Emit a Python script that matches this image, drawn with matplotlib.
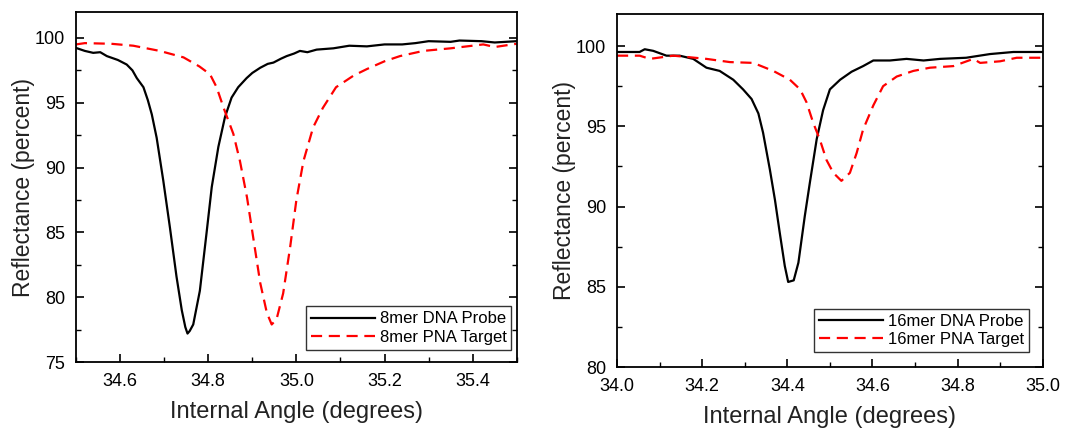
import matplotlib.pyplot as plt
import numpy as np

plt.rcParams['font.family'] = ['Liberation Sans', 'DejaVu Sans']

# left panel: 8mer
x8_probe = [34.50, 34.52, 34.539, 34.555, 34.57, 34.595, 34.615, 34.628, 34.638, 34.653,
            34.663, 34.672, 34.683, 34.698, 34.713, 34.728, 34.74, 34.748, 34.753, 34.758,
            34.766, 34.781, 34.796, 34.808, 34.823, 34.838, 34.853, 34.868, 34.887, 34.9,
            34.918, 34.935, 34.948, 34.965, 34.978, 34.995, 35.008, 35.025, 35.046, 35.084,
            35.12, 35.16, 35.2, 35.24, 35.27, 35.3, 35.35, 35.37, 35.42, 35.45, 35.50]
y8_probe = [99.23, 99.0, 98.85, 98.9, 98.6, 98.3, 97.95, 97.5, 96.9, 96.2,
            95.2, 94.1, 92.3, 89.0, 85.4, 81.6, 79.0, 77.7, 77.2, 77.4,
            77.9, 80.5, 84.9, 88.5, 91.6, 93.9, 95.4, 96.2, 96.9, 97.3,
            97.7, 98.0, 98.1, 98.4, 98.6, 98.8, 99.0, 98.9, 99.1, 99.2,
            99.4, 99.35, 99.5, 99.5, 99.6, 99.75, 99.7, 99.8, 99.75, 99.65, 99.75]
x8_target = [34.50, 34.52, 34.58, 34.63, 34.69, 34.744, 34.78, 34.804, 34.819, 34.835,
             34.857, 34.872, 34.888, 34.903, 34.918, 34.933, 34.944, 34.955, 34.97, 34.986,
             35.0, 35.016, 35.038, 35.06, 35.09, 35.13, 35.16, 35.2, 35.235, 35.288,
             35.35, 35.424, 35.45, 35.50]
y8_target = [99.5, 99.6, 99.55, 99.4, 99.0, 98.5, 97.8, 97.2, 96.2, 94.6,
             92.6, 90.5, 87.7, 84.4, 81.1, 78.8, 77.9, 78.3, 80.3, 83.9,
             87.5, 90.5, 93.1, 94.6, 96.2, 97.1, 97.6, 98.2, 98.6, 99.0,
             99.2, 99.5, 99.3, 99.55]

# right panel: 16mer
x16_probe = [34.0, 34.053, 34.065, 34.085, 34.116, 34.147, 34.179, 34.21, 34.241, 34.273,
             34.296, 34.316, 34.332, 34.343, 34.359, 34.371, 34.382, 34.394, 34.402, 34.415,
             34.426, 34.441, 34.453, 34.469, 34.484, 34.5, 34.524, 34.551, 34.578, 34.602,
             34.641, 34.68, 34.72, 34.759, 34.82, 34.876, 34.931, 35.0]
y16_probe = [99.63, 99.63, 99.8, 99.7, 99.4, 99.4, 99.2, 98.65, 98.45, 97.9,
             97.3, 96.7, 95.8, 94.6, 92.3, 90.4, 88.4, 86.3, 85.3, 85.4,
             86.5, 89.4, 91.5, 94.2, 96.0, 97.3, 97.9, 98.4, 98.75, 99.1,
             99.1, 99.2, 99.1, 99.2, 99.27, 99.5, 99.63, 99.63]
x16_target = [34.0, 34.053, 34.077, 34.132, 34.171, 34.21, 34.265, 34.32, 34.367, 34.406,
              34.43, 34.445, 34.461, 34.476, 34.492, 34.508, 34.527, 34.547, 34.563, 34.578,
              34.602, 34.625, 34.657, 34.696, 34.735, 34.79, 34.837, 34.853, 34.9, 34.939,
              35.0]
y16_target = [99.4, 99.4, 99.2, 99.4, 99.3, 99.2, 99.0, 98.95, 98.45, 97.9,
              97.3, 96.5, 95.2, 94.2, 92.9, 92.1, 91.6, 92.1, 93.35, 94.8,
              96.3, 97.5, 98.1, 98.45, 98.65, 98.75, 99.2, 98.95, 99.05, 99.27,
              99.27]

fig = plt.figure(figsize=(10.75, 4.29), dpi=100)
ax1 = fig.add_axes([0.0707, 0.156, 0.410, 0.816])
ax2 = fig.add_axes([0.574, 0.1445, 0.396, 0.823])


def style(ax):
    for s in ax.spines.values():
        s.set_linewidth(1.3)
    ax.tick_params(which='both', direction='in', top=False, right=True, labelsize=13, pad=8)
    ax.tick_params(which='major', length=6, width=1.2)
    ax.tick_params(which='minor', length=3.5, width=1.0)
    ax.set_xlabel('Internal Angle (degrees)', fontsize=17, color='#222222', labelpad=8)
    ax.set_ylabel('Reflectance (percent)', fontsize=16.5, color='#222222', labelpad=0)


ax1.plot(x8_probe, y8_probe, color='black', lw=1.6, label='8mer DNA Probe')
ax1.plot(x8_target, y8_target, color='red', lw=1.6, dashes=(5, 3), label='8mer PNA Target')
ax1.set_xlim(34.5, 35.5)
ax1.set_ylim(75, 102)
ax1.set_xticks(np.arange(34.6, 35.41, 0.2))
ax1.set_xticks(np.arange(34.5, 35.51, 0.1), minor=True)
ax1.set_yticks(np.arange(75, 101, 5))
ax1.set_yticks(np.arange(77.5, 101, 5), minor=True)
ax1.xaxis.set_major_formatter(plt.FormatStrFormatter('%.1f'))
style(ax1)
ax1.legend(loc='lower right', bbox_to_anchor=(0.988, 0.035), fontsize=12, fancybox=False,
           edgecolor='#333333', framealpha=1, handlelength=3.8, borderpad=0.3,
           labelspacing=0.2, handletextpad=0.3, borderaxespad=0)

ax2.plot(x16_probe, y16_probe, color='black', lw=1.6, label='16mer DNA Probe')
ax2.plot(x16_target, y16_target, color='red', lw=1.6, dashes=(5, 3), label='16mer PNA Target')
ax2.set_xlim(34.0, 35.0)
ax2.set_ylim(80, 102)
ax2.set_xticks(np.arange(34.0, 35.01, 0.2))
ax2.set_xticks(np.arange(34.0, 35.01, 0.1), minor=True)
ax2.set_yticks(np.arange(80, 101, 5))
ax2.set_yticks(np.arange(82.5, 101, 5), minor=True)
ax2.xaxis.set_major_formatter(plt.FormatStrFormatter('%.1f'))
style(ax2)
ax2.legend(loc='lower right', bbox_to_anchor=(0.967, 0.042), fontsize=12, fancybox=False,
           edgecolor='#333333', framealpha=1, handlelength=3.8, borderpad=0.3,
           labelspacing=0.2, handletextpad=0.3, borderaxespad=0)

fig.savefig('out.png', dpi=100)
